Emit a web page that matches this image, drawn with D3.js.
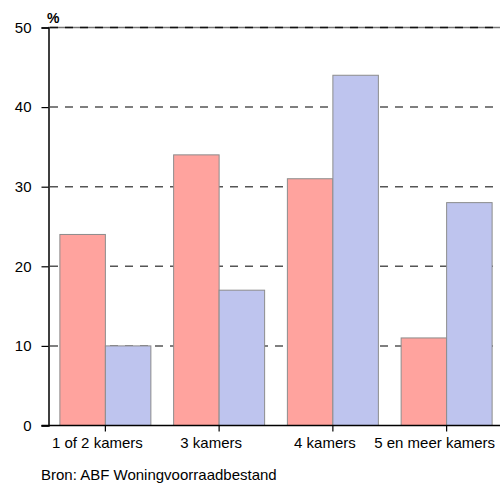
<!DOCTYPE html>
<html>
<head>
<meta charset="utf-8">
<script src="https://cdn.jsdelivr.net/npm/d3@7"></script>
<style>
  body { margin: 0; background: #fff; }
  svg { display: block; font-family: "Liberation Sans", Arial, sans-serif; }
</style>
</head>
<body>
<svg id="chart" width="500" height="483"></svg>
<script>
var categories = ["1 of 2 kamers", "3 kamers", "4 kamers", "5 en meer kamers"];
var seriesA = [24, 34, 31, 11];   // rood
var seriesB = [10, 17, 44, 28];   // blauw
var yTicks = [0, 10, 20, 30, 40, 50];

var svg = d3.select("#chart"),
    mLeft = 48, mRight = 503, mTop = 27, mBottom = 425;

var x = d3.scaleBand().domain(categories).range([mLeft, mRight])
    .paddingInner(0.2).paddingOuter(0.1);
var y = d3.scaleLinear().domain([0, 50]).range([mBottom, mTop]);

// gridlines
var grid = yTicks.filter(function(d) { return d > 0; });
svg.append("g").selectAll("line")
  .data(grid.filter(function(d) { return d === 50; }))
  .enter().append("line")
    .attr("x1", mLeft).attr("x2", 500)
    .attr("y1", function(d) { return y(d) + 0.5; })
    .attr("y2", function(d) { return y(d) + 0.5; })
    .attr("stroke", "#777")
    .attr("stroke-width", 1.5);
svg.append("g").selectAll("line")
  .data(grid)
  .enter().append("line")
    .attr("x1", mLeft + 2).attr("x2", 500)
    .attr("y1", function(d) { return y(d) + 0.5; })
    .attr("y2", function(d) { return y(d) + 0.5; })
    .attr("stroke", function(d) { return d === 50 ? "#111" : "#555"; })
    .attr("stroke-width", 1.5)
    .attr("stroke-dasharray", "8,7");

// bars
var xs = d3.scaleBand().domain([0, 1]).range([0, x.bandwidth()]);
var groups = svg.append("g").selectAll("g")
  .data(categories).enter().append("g")
    .attr("transform", function(d) { return "translate(" + x(d) + ",0)"; });
[seriesA, seriesB].forEach(function(vals, s) {
  groups.append("rect")
    .attr("x", xs(s) + 0.5)
    .attr("width", xs.bandwidth())
    .attr("y", function(d, i) { return y(vals[i]) + 0.5; })
    .attr("height", function(d, i) { return y(0) - y(vals[i]); })
    .attr("fill", s === 0 ? "#ffa39e" : "#bec4ee")
    .attr("stroke", "#8c8c8c")
    .attr("stroke-width", 1);
});

// y axis
var yAxis = d3.axisLeft(y).tickValues(yTicks).tickSize(7).tickPadding(10);
svg.append("g").attr("transform", "translate(" + (mLeft + 0.5) + ",0.5)")
  .call(yAxis)
  .call(function(g) {
    g.select(".domain").attr("stroke", "#000").attr("stroke-width", 1.5);
    g.selectAll(".tick line").attr("stroke", "#000").attr("stroke-width", 1.2);
    g.selectAll(".tick text").attr("font-size", 15).attr("fill", "#000")
      .attr("font-family", "Liberation Sans, Arial, sans-serif");
  });

// x axis
var xAxis = d3.axisBottom(x).tickSize(6).tickPadding(6).tickSizeOuter(0);
svg.append("g").attr("transform", "translate(0.5," + (mBottom + 0.5) + ")")
  .call(xAxis)
  .call(function(g) {
    g.select(".domain").attr("d", "M" + (mLeft - 7) + ",0H500")
      .attr("stroke", "#000").attr("stroke-width", 1.5);
    g.selectAll(".tick line").attr("stroke", "#000").attr("stroke-width", 1.2);
    g.selectAll(".tick text").attr("font-size", 15).attr("fill", "#000")
      .attr("x", function(d, i) { return i === 3 ? -12 : -8; })
      .attr("font-family", "Liberation Sans, Arial, sans-serif");
  });

svg.append("text").attr("x", 47).attr("y", 23)
  .attr("font-size", 14).attr("font-weight", "bold").text("%");

svg.append("text").attr("x", 41).attr("y", 480)
  .attr("font-size", 15).text("Bron: ABF Woningvoorraadbestand");
</script>
</body>
</html>
